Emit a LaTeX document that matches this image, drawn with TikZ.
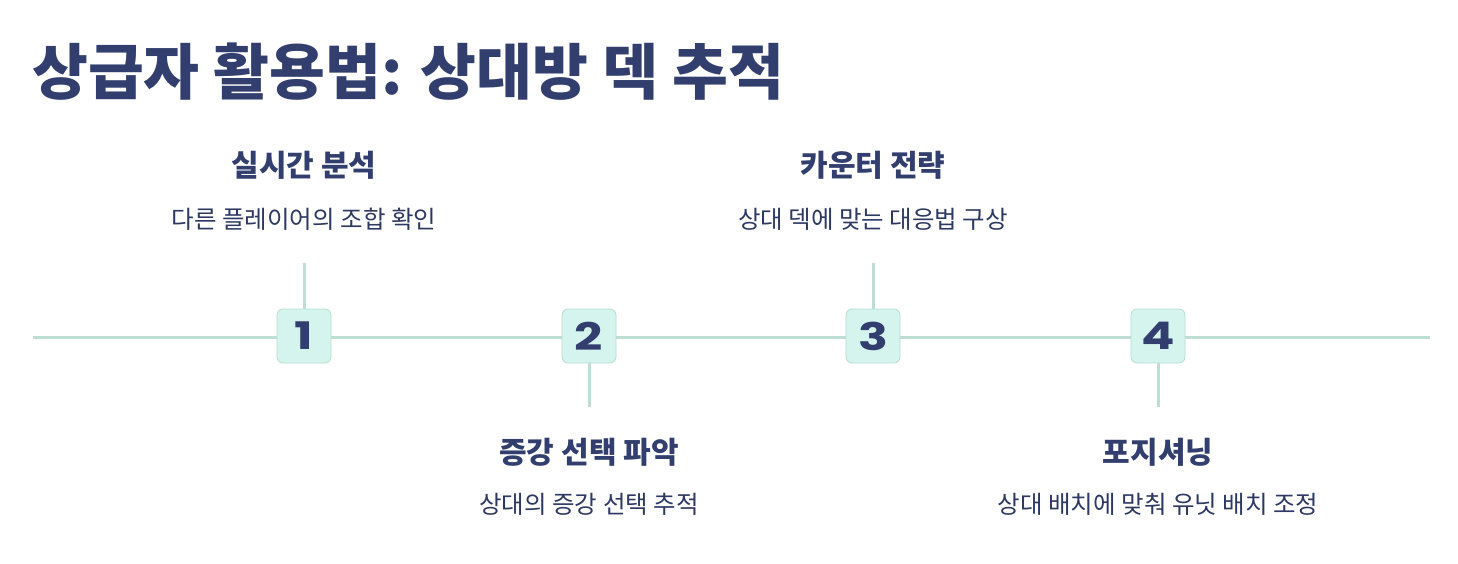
\documentclass[tikz,border=0pt]{standalone}
\usepackage{fontspec}
\setmainfont{Noto Sans CJK KR}
\newfontfamily\numfont[FakeStretch=1.3]{Poppins}
\usepackage{tikz}
\usetikzlibrary{positioning,calc}
\definecolor{navy}{HTML}{323F6E}
\definecolor{linegreen}{HTML}{BEDDD3}
\definecolor{boxfill}{HTML}{D6F4EE}
\definecolor{boxline}{HTML}{B5DCD2}
\tikzset{
  stepbox/.style={draw=boxline, fill=boxfill, line width=0.8pt, rounded corners=6pt,
    minimum width=54pt, minimum height=54pt, inner sep=0pt,
    font=\numfont\bfseries\fontsize{38}{38}\selectfont, text=navy},
  steptitle/.style={font=\bfseries\fontsize{30}{33}\selectfont, text=navy},
  stepdesc/.style={font=\fontsize{24.5}{28}\selectfont, text=navy!90!black},
  tline/.style={draw=linegreen, line width=3pt}
}
\begin{document}
\begin{tikzpicture}[x=1pt,y=-1pt]
    % Fix the canvas to the size of the reference
    \useasboundingbox (0,0) rectangle (1458,563);

    % Title
    \node[anchor=west, inner sep=0pt, text=navy,
          font=\bfseries\fontsize{60.7}{64}\selectfont] (title) at (32,72) {상급자 활용법: 상대방 덱 추적};

    % End points of the time line
    \coordinate (lstart) at (33,337);
    \coordinate (lend) at (1430,337);
    \draw[tline] (lstart) -- (lend);

    % The four steps
    \node[stepbox] (box1) at (304,336) {1};
    \node[stepbox] (box2) at (589,336) {2};
    \node[stepbox] (box3) at (873,336) {3};
    \node[stepbox] (box4) at (1158,336) {4};

    % Ticks to the labels
    \coordinate (tick1) at (304,263);
    \coordinate (tick2) at (589,407);
    \coordinate (tick3) at (873,263);
    \coordinate (tick4) at (1158,407);
    \draw[tline] (box1.north) -- (tick1);
    \draw[tline] (box2.south) -- (tick2);
    \draw[tline] (box3.north) -- (tick3);
    \draw[tline] (box4.south) -- (tick4);

    % Labels above the line
    \node[steptitle] (head1) at (304,165) {실시간 분석};
    \node[stepdesc] (desc1) at (304,219) {다른 플레이어의 조합 확인};
    \node[steptitle] (head3) at (873,165) {카운터 전략};
    \node[stepdesc] (desc3) at (873,219) {상대 덱에 맞는 대응법 구상};

    % Labels below the line
    \node[steptitle] (head2) at (589,452) {증강 선택 파악};
    \node[stepdesc] (desc2) at (589,504) {상대의 증강 선택 추적};
    \node[steptitle] (head4) at (1158,452) {포지셔닝};
    \node[stepdesc] (desc4) at (1158,504) {상대 배치에 맞춰 유닛 배치 조정};
\end{tikzpicture}
\end{document}
